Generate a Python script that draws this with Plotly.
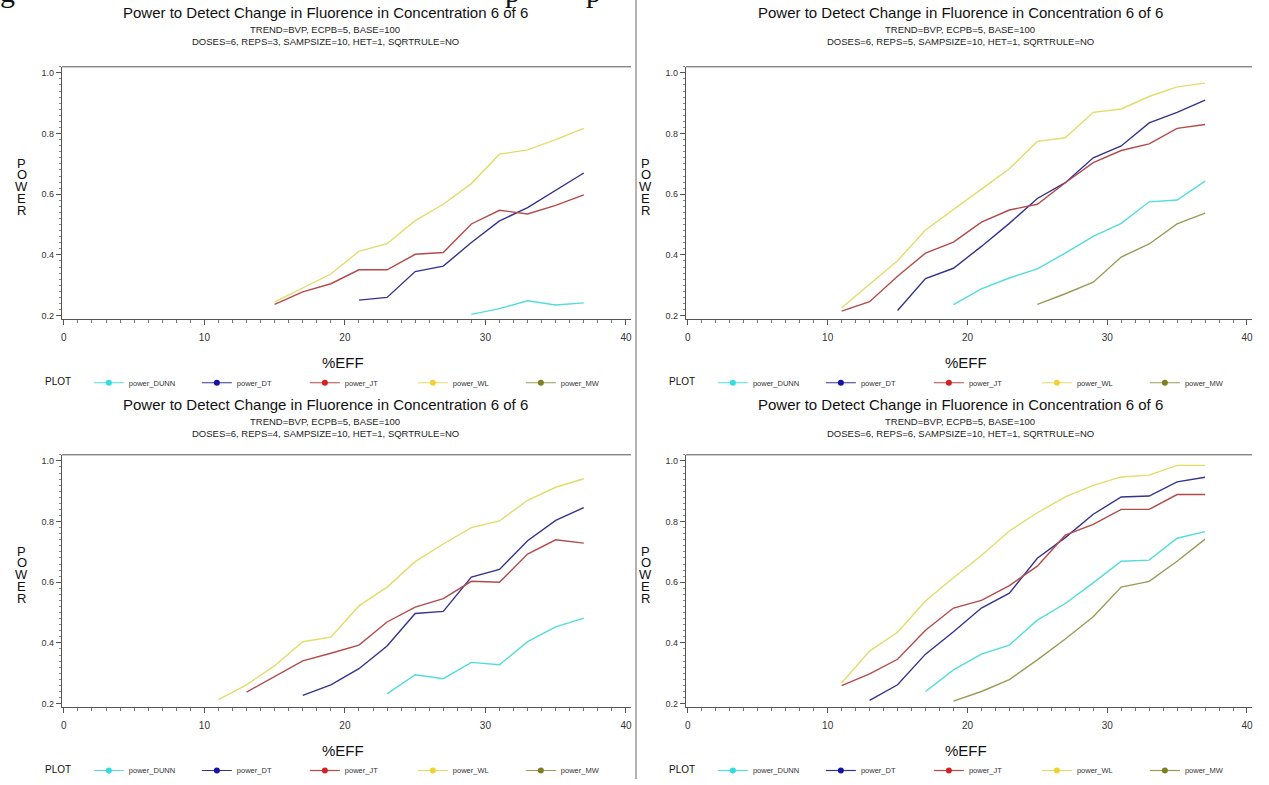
import plotly.graph_objects as go

# %EFF levels at which power was simulated
EFF = [11, 13, 15, 17, 19, 21, 23, 25, 27, 29, 31, 33, 35, 37]

N = None
# power curves, one block per REPS setting (None = below the plotted range)
REPS3 = {
    "power_DUNN": [N] * 9 + [0.204, 0.223, 0.249, 0.235, 0.242],
    "power_DT": [N] * 5 + [0.251, 0.260, 0.345, 0.363, 0.441, 0.512, 0.556, 0.613, 0.670],
    "power_JT": [N] * 2 + [0.237, 0.278, 0.305, 0.351, 0.351, 0.402, 0.408, 0.502, 0.547, 0.535, 0.563, 0.598],
    "power_WL": [N] * 2 + [0.245, 0.292, 0.337, 0.412, 0.437, 0.513, 0.567, 0.635, 0.732, 0.746, 0.780, 0.817],
    "power_MW": [N] * 14,
}
REPS5 = {
    "power_DUNN": [N] * 4 + [0.236, 0.288, 0.324, 0.354, 0.406, 0.461, 0.504, 0.575, 0.581, 0.643],
    "power_DT": [N] * 2 + [0.217, 0.322, 0.356, 0.428, 0.504, 0.586, 0.638, 0.720, 0.759, 0.835, 0.870, 0.910],
    "power_JT": [0.215, 0.246, 0.330, 0.406, 0.442, 0.508, 0.548, 0.567, 0.638, 0.704, 0.744, 0.766, 0.817, 0.830],
    "power_WL": [0.226, 0.302, 0.381, 0.482, 0.548, 0.617, 0.684, 0.774, 0.786, 0.870, 0.881, 0.922, 0.954, 0.966],
    "power_MW": [N] * 7 + [0.237, 0.272, 0.310, 0.393, 0.436, 0.502, 0.538],
}
REPS4 = {
    "power_DUNN": [N] * 6 + [0.232, 0.295, 0.282, 0.336, 0.328, 0.404, 0.453, 0.482],
    "power_DT": [N] * 3 + [0.227, 0.262, 0.315, 0.390, 0.497, 0.504, 0.617, 0.642, 0.737, 0.804, 0.846],
    "power_JT": [N] + [0.238, 0.289, 0.341, 0.366, 0.393, 0.469, 0.518, 0.546, 0.603, 0.600, 0.693, 0.740, 0.729],
    "power_WL": [0.213, 0.262, 0.325, 0.404, 0.419, 0.522, 0.584, 0.668, 0.726, 0.780, 0.802, 0.870, 0.913, 0.941],
    "power_MW": [N] * 14,
}
REPS6 = {
    "power_DUNN": [N] * 3 + [0.240, 0.311, 0.363, 0.393, 0.475, 0.530, 0.598, 0.669, 0.673, 0.745, 0.767],
    "power_DT": [N] + [0.211, 0.262, 0.363, 0.437, 0.515, 0.564, 0.679, 0.747, 0.824, 0.881, 0.884, 0.931, 0.946],
    "power_JT": [0.259, 0.298, 0.346, 0.442, 0.515, 0.540, 0.589, 0.653, 0.755, 0.791, 0.840, 0.840, 0.889, 0.889],
    "power_WL": [0.268, 0.373, 0.435, 0.538, 0.615, 0.688, 0.769, 0.829, 0.881, 0.919, 0.947, 0.953, 0.985, 0.985],
    "power_MW": [N] * 4 + [0.208, 0.240, 0.279, 0.344, 0.413, 0.486, 0.584, 0.603, 0.669, 0.742],
}

SERIES = ["power_DUNN", "power_DT", "power_JT", "power_WL", "power_MW"]
LINE_COLORS = {"power_DUNN": "#52dcdc", "power_DT": "#34348e", "power_JT": "#b54a4a",
               "power_WL": "#e3dc68", "power_MW": "#9b9b57"}
MARK_COLORS = {"power_DUNN": "#33dce3", "power_DT": "#1414aa", "power_JT": "#d42222",
               "power_WL": "#f0d232", "power_MW": "#7f7f22"}

TITLE = "Power to Detect Change in Fluorence in Concentration 6 of 6"
SUB1 = "TREND=BVP, ECPB=5, BASE=100"
YTICKS = [0.2, 0.4, 0.6, 0.8, 1.0]
XTICKS = [0, 10, 20, 30, 40]

W, H = 1269, 785
FONT = "Liberation Sans, Arial, sans-serif"

# panel layout in pixels: (data, reps, left, right, top, bottom)
PANELS = [
    (REPS3, 3, 61, 631, 67.3, 321.7),
    (REPS5, 5, 686, 1253, 67.3, 321.7),
    (REPS4, 4, 61, 631, 458.3, 712.7),
    (REPS6, 6, 686, 1253, 458.3, 712.7),
]


def px(x):
    return x / W


def py(y):
    return 1 - y / H


fig = go.Figure()
annotations = []
shapes = []
layout = {}

for i, (data, reps, left, right, top, bottom) in enumerate(PANELS):
    k = "" if i == 0 else str(i + 1)
    xa, ya = "x" + k, "y" + k
    leg = "legend" + k

    for s in SERIES:
        fig.add_trace(go.Scatter(
            x=EFF, y=data[s], mode="lines", xaxis=xa, yaxis=ya,
            line=dict(color=LINE_COLORS[s], width=1.4),
            showlegend=False, hoverinfo="x+y", name=s))
    for s in SERIES:
        fig.add_trace(go.Scatter(
            x=[None], y=[None], mode="lines+markers", xaxis=xa, yaxis=ya,
            line=dict(color=LINE_COLORS[s], width=1.2),
            marker=dict(color=MARK_COLORS[s], size=6),
            name=s, legend=leg, showlegend=True))

    axis_common = dict(showline=True, linecolor="#555", linewidth=1, ticks="outside",
                       tickcolor="#555", ticklen=5, showgrid=False, zeroline=False)
    layout["xaxis" + k] = dict(
        domain=[px(left), px(right)], range=[-0.14, 40.36], anchor=ya,
        tickvals=XTICKS, ticktext=[str(v) for v in XTICKS], ticklabelstandoff=4,
        tickfont=dict(family=FONT, size=10, color="#333"),
        minor=dict(dtick=1, ticklen=3, tickcolor="#777", ticks="outside"),
        **axis_common)
    layout["yaxis" + k] = dict(
        domain=[py(bottom), py(top)], range=[0.188, 1.02], anchor=xa,
        tickvals=YTICKS, ticktext=["%.1f" % v for v in YTICKS],
        tickfont=dict(family=FONT, size=9, color="#333"),
        minor=dict(dtick=0.02, ticklen=2, tickcolor="#888", ticks="outside"),
        **axis_common)

    # top frame line of the plot area
    shapes.append(dict(type="line", xref=xa + " domain", yref=ya + " domain",
                       x0=0, x1=1, y0=1, y1=1, line=dict(color="#555", width=1)))

    half_l = 0 if left < 600 else 636
    tcx = half_l + 325
    base = 0 if top < 200 else 395
    annotations += [
        dict(text=TITLE, x=px(tcx), y=py(base + 13), font=dict(family=FONT, size=15, color="#111")),
        dict(text=SUB1, x=px(tcx), y=py(base + 30), font=dict(family=FONT, size=9.5, color="#222")),
        dict(text="DOSES=6, REPS=%d, SAMPSIZE=10, HET=1, SQRTRULE=NO" % reps,
             x=px(tcx), y=py(base + 41.5), font=dict(family=FONT, size=9.5, color="#222")),
        dict(text="%EFF", x=px((left + right) / 2 - 3), y=py(bottom + 44),
             font=dict(family=FONT, size=15, color="#111")),
        dict(text="PLOT", x=px(left - 4), y=py(bottom + 63), font=dict(family=FONT, size=10, color="#111")),
    ]
    for j, ch in enumerate("POWER"):
        annotations.append(dict(text=ch, x=px(left - 40), y=py(top + 97 + 12 * j),
                                font=dict(family=FONT, size=13, color="#111")))

    layout[leg] = dict(
        orientation="h", x=px(left + 27), y=py(bottom + 64), xanchor="left", yanchor="middle",
        font=dict(family=FONT, size=7.5, color="#333"), itemwidth=30,
        entrywidth=63, entrywidthmode="pixels", bgcolor="rgba(0,0,0,0)",
        tracegroupgap=0, itemclick=False, itemdoubleclick=False)

for a in annotations:
    a.update(xref="paper", yref="paper", showarrow=False, xanchor="center", yanchor="middle")

# separator between the left and right columns
shapes.append(dict(type="line", xref="paper", yref="paper", x0=px(636), x1=px(636),
                   y0=0, y1=1, line=dict(color="#9a9a9a", width=1.5)))

# descenders of a caption line running off the top edge
for ch, xx in [("g", 7), ("p", 512), ("p", 593)]:
    annotations.append(dict(text=ch, x=px(xx), y=py(10), xref="paper", yref="paper",
                            showarrow=False, xanchor="center", yanchor="bottom",
                            font=dict(family="Liberation Serif, serif", size=30, color="#111")))

fig.update_layout(
    width=W, height=H, autosize=False,
    margin=dict(l=0, r=0, t=0, b=0),
    paper_bgcolor="white", plot_bgcolor="white",
    annotations=annotations, shapes=shapes, **layout)

fig.write_html("out.html",
               post_script="document.body.style.margin='0';document.body.style.overflow='hidden';")
